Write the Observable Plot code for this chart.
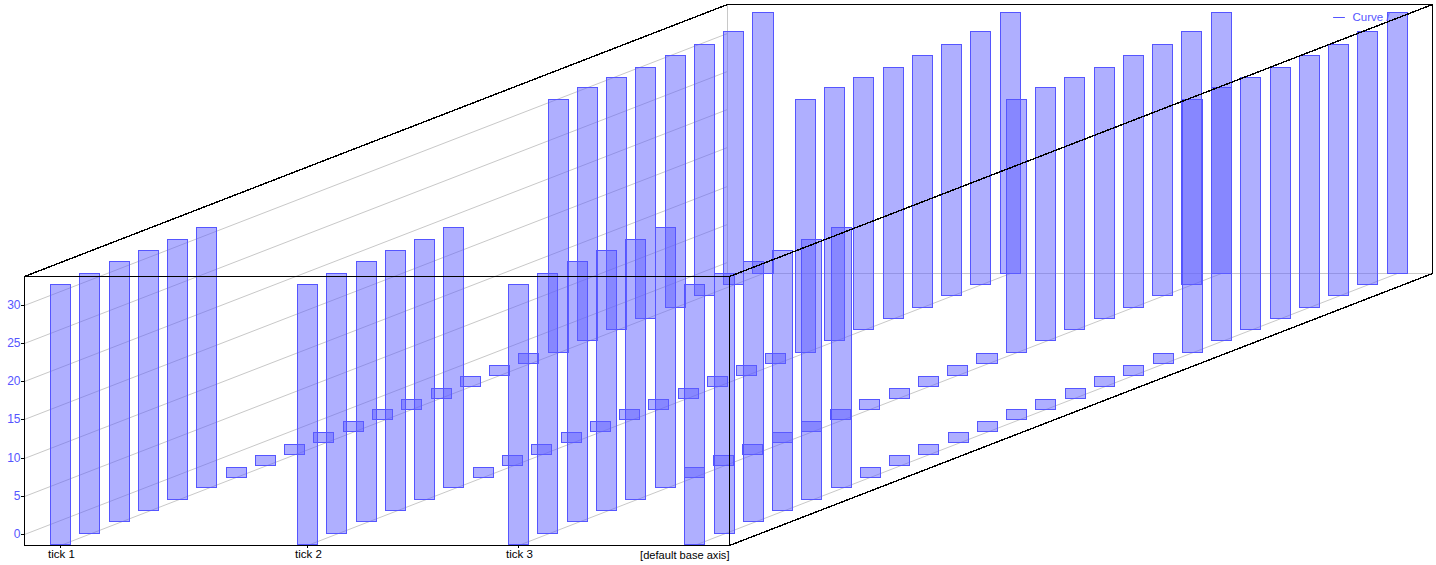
<!DOCTYPE html>
<html>
<head>
<meta charset="utf-8">
<script src="https://cdn.jsdelivr.net/npm/d3@7"></script>
<script src="https://cdn.jsdelivr.net/npm/@observablehq/plot@0.6"></script>
<style>
html,body{margin:0;padding:0;background:#fff}
svg{display:block}
</style>
</head>
<body>
<div id="chart"></div>
<script>
// Base-axis positions of the four rows of bars
const rowBases = [36, 283, 494, 670];
const tickLabels = ["tick 1", "tick 2", "tick 3"];
const baseAxisLabel = "[default base axis]";
const yTicks = [0, 5, 10, 15, 20, 25, 30];
const seriesName = "Curve /";

// Bar range for each of the 25 depth steps
const barHighs = [32.7, 32.7, 32.7, 32.7, 32.7, 32.7,
  -0.17, -0.08, -0.05, -0.03, 0, 0.09, -0.14, -0.12, -0.03, -0.07, 0.03,
  31.79, 31.88, 31.71, 31.54, 31.63, 31.6, 31.82, 32.82];
const smallBarHeight = 1.31;
const barLows = barHighs.map(h => h > 5 ? -1.31 : h - smallBarHeight);

// Plot extents and the oblique depth vector, in data units
const baseMax = 705, valueMin = -1.44, valueMax = 33.77;
const stepBase = 29.26, stepValue = 1.479;
const depthBase = 702.5, depthValue = 35.56;
const barWidth = 20;

const bars = [];
for (let z = barHighs.length - 1; z >= 0; z--) {
  for (const base of rowBases) {
    bars.push({
      x1: base - barWidth / 2 + z * stepBase,
      x2: base + barWidth / 2 + z * stepBase,
      y1: barLows[z] + z * stepValue,
      y2: barHighs[z] + z * stepValue
    });
  }
}

const seg = (a, b, c, d) => [[a, b], [c, d]];
const gridSegs = [
  ...yTicks.map(v => seg(0, v, depthBase, v + depthValue)),
  ...rowBases.map(t => seg(t, valueMin, t + depthBase, valueMin + depthValue)),
  seg(depthBase, valueMin + depthValue, baseMax + depthBase, valueMin + depthValue),
  seg(depthBase, valueMin + depthValue, depthBase, valueMax + depthValue)
];
const frameSegs = [
  seg(0, valueMin, baseMax, valueMin),
  seg(0, valueMin, 0, valueMax),
  seg(0, valueMax, baseMax, valueMax),
  seg(baseMax, valueMin, baseMax, valueMax),
  seg(depthBase, valueMax + depthValue, baseMax + depthBase, valueMax + depthValue),
  seg(baseMax + depthBase, valueMin + depthValue, baseMax + depthBase, valueMax + depthValue)
];
const slantSegs = [
  seg(0, valueMax, depthBase, valueMax + depthValue),
  seg(baseMax, valueMax, baseMax + depthBase, valueMax + depthValue),
  seg(baseMax, valueMin, baseMax + depthBase, valueMin + depthValue)
];

const blue = "#5555ff";
const fontFamily = "'Liberation Sans', Arial, sans-serif";
const legendBase = 1309, legendValue = 67.65;

const chart = Plot.plot({
  width: 1436,
  height: 565,
  marginLeft: 24,
  marginRight: 4,
  marginTop: 4,
  marginBottom: 20,
  style: {fontFamily, background: "#fff"},
  x: {domain: [0, baseMax + depthBase], round: true, label: null},
  y: {domain: [valueMin, valueMax + depthValue], round: true, label: null},
  marks: [
    ...gridSegs.map(s => Plot.line(s, {stroke: "#c8c8c8", strokeWidth: 1})),
    Plot.line(seg(legendBase, legendValue, legendBase + 11, legendValue), {stroke: blue, strokeWidth: 1}),
    Plot.rect(bars, {x1: "x1", x2: "x2", y1: "y1", y2: "y2",
      fill: "#5f5fff", fillOpacity: 0.5, stroke: blue, strokeWidth: 1, dx: 0.5, dy: 0.5}),
    Plot.text([seriesName], {x: () => legendBase + 19, y: () => legendValue, text: d => d,
      fill: blue, fontSize: 11.5, textAnchor: "start"}),
    ...frameSegs.map(s => Plot.line(s, {stroke: "black", strokeWidth: 1, shapeRendering: "crispEdges"})),
    ...slantSegs.map(s => Plot.line(s, {stroke: "black", strokeWidth: 1.4, shapeRendering: "crispEdges"})),
    Plot.axisY({ticks: yTicks, tickSize: 3, tickPadding: 1, color: blue, stroke: "black",
      fontSize: 12, label: null}),
    Plot.axisX({ticks: rowBases.slice(0, 3), tickSize: 3, tickPadding: 1, stroke: "black",
      tickFormat: d => tickLabels[rowBases.indexOf(d)], fontSize: 11.5, label: null}),
    Plot.text([baseAxisLabel], {x: () => baseMax, y: () => valueMin, text: d => d, dy: 9.5,
      textAnchor: "end", fill: "black", fontSize: 11.1})
  ]
});
// Tick labels sit one pixel right of their ticks, as in the reference
chart.querySelectorAll('[aria-label="x-axis tick label"] text').forEach(t => {
  t.setAttribute("dx", "1");
});
document.getElementById("chart").append(chart);
</script>
</body>
</html>
